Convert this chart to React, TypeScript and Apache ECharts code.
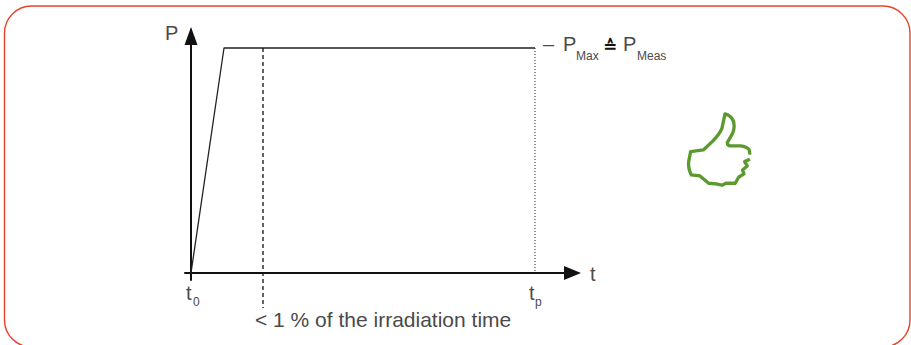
import React, { useEffect, useRef } from "react";
import * as echarts from "echarts";

const pulseCurve: [number, number][] = [[0, 0], [8.25, 90], [86, 90]];
const irradiationMarker: [number, number][] = [[18, 90], [18, -14]];
const pulseEndMarker: [number, number][] = [[86, 90], [86, 0]];

const THUMB =
  "M240 164 L238 150 Q230 140 212 138 L182 138 Q172 138 172 128 L188 100 Q196 80 190 62 Q182 46 165 42 L156 85 Q150 100 130 122 L100 150 L62 155 L56 185 Q54 205 64 225 L90 228 L116 250 L138 252 L156 256 L168 250 L196 250 L206 232 L222 222 L218 210 L232 198 L224 185 L240 178";
echarts.graphic.registerShape("thumb", echarts.graphic.extendPath(THUMB, {}));

const INK = "#222";
const TEXT = "#4a4a4a";
const FONT = "Liberation Sans";

const txt = (x: number, baseline: number, text: string, fontSize = 20, extra: any = {}) => ({
  type: "text",
  x,
  y: baseline - fontSize * 0.36,
  style: { text, fontSize, fontFamily: FONT, fill: TEXT, verticalAlign: "middle", ...extra },
});

export default function App() {
  const ref = useRef<HTMLDivElement>(null);
  useEffect(() => {
    const chart = echarts.init(ref.current!, null, { renderer: "svg" });
    chart.setOption({
      animation: false,
      backgroundColor: "#fff",
      grid: { left: 185, top: 30, width: 393, height: 250 },
      xAxis: {
        type: "value",
        min: -1.5,
        max: 96.75,
        splitLine: { show: false },
        axisTick: { show: false },
        axisLabel: { show: false },
        axisLine: { onZero: true, symbol: ["none", "triangle"], symbolSize: [14, 17], symbolOffset: [0, -5.5], lineStyle: { color: "#111", width: 2 } },
      },
      yAxis: {
        type: "value",
        min: -2.8,
        max: 97.2,
        splitLine: { show: false },
        axisTick: { show: false },
        axisLabel: { show: false },
        axisLine: { onZero: true, symbol: ["none", "triangle"], symbolSize: [13, 18], symbolOffset: [0, -6], lineStyle: { color: "#111", width: 2 } },
      },
      series: [
        { type: "line", data: pulseCurve, showSymbol: false, clip: false, lineStyle: { color: INK, width: 1.3 } },
        { type: "line", data: irradiationMarker, showSymbol: false, clip: false, lineStyle: { color: "#111", width: 1.3, type: [4, 3] } },
        { type: "line", data: pulseEndMarker, showSymbol: false, clip: false, lineStyle: { color: INK, width: 1, type: [1, 2] } },
      ],
      graphic: [
        { type: "rect", shape: { x: 4.5, y: 6, width: 905.5, height: 341, r: 27 }, style: { fill: "none", stroke: "#e8432a", lineWidth: 1.4 } },
        txt(165, 40, "P"),
        txt(590, 281, "t"),
        txt(186, 300, "t"),
        txt(193, 306, "0", 12),
        txt(529, 300, "t"),
        txt(535, 306, "p", 12),
        txt(543, 51, "–"),
        txt(563, 51, "P"),
        txt(576, 60, "Max", 12),
        txt(603, 52, "≙", 17, { fontFamily: "DejaVu Sans", fontWeight: 700, fill: "#111" }),
        txt(623, 51, "P"),
        txt(637, 60, "Meas", 12),
        txt(255, 327, "< 1 % of the irradiation time", 21),
        { type: "thumb", x: 670, y: 100, scaleX: 1 / 3, scaleY: 1 / 3, style: { fill: "none", stroke: "#5b9a2f", lineWidth: 10, lineJoin: "round" } },
      ],
    });
    return () => chart.dispose();
  }, []);
  return <div ref={ref} style={{ position: "absolute", left: 0, top: 0, width: 911, height: 345 }} />;
}
